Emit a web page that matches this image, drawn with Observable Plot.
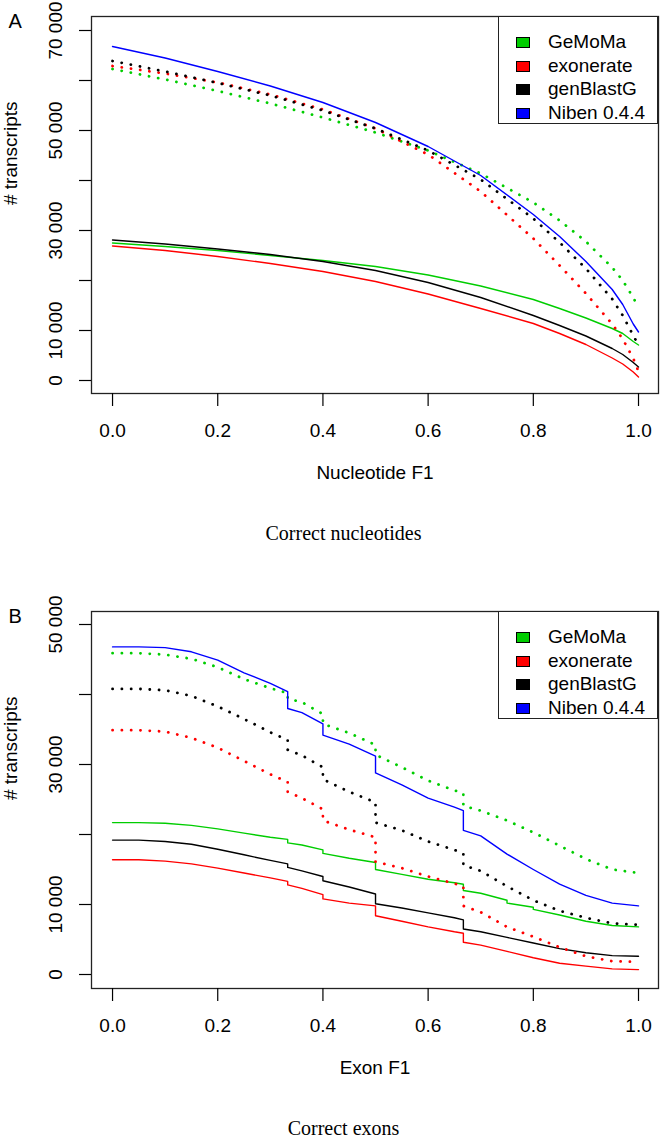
<!DOCTYPE html>
<html><head><meta charset="utf-8">
<script src="https://cdn.jsdelivr.net/npm/d3@7"></script>
<script src="https://cdn.jsdelivr.net/npm/@observablehq/plot@0.6"></script>
<style>
body{margin:0;background:#fff;}
#wrap{position:relative;width:661px;height:1147px;overflow:hidden;font-family:"Liberation Sans",Arial,Helvetica,sans-serif;}
#wrap svg{position:absolute;left:0;}
.legend{position:absolute;left:498px;width:160px;height:108px;border:1.3px solid #222;background:#fff;box-sizing:border-box;}
.legend .sw{position:absolute;left:17px;width:14px;height:11px;border:1px solid #000;box-sizing:border-box;}
.legend .lb{position:absolute;left:49px;font-size:19px;line-height:20px;color:#000;white-space:nowrap;}
</style></head>
<body><div id="wrap"></div>
<script>
// ---- shared ----
const seriesNames = ["GeMoMa", "exonerate", "genBlastG", "Niben 0.4.4"];
const seriesColors = ["#00CD00", "#FF0000", "#000000", "#0000FF"];
const xTicks = [0, 0.2, 0.4, 0.6, 0.8, 1.0];

// ---- Panel A: Correct nucleotides (values in thousands) ----
const xA = [0, 0.1, 0.2, 0.3, 0.4, 0.5, 0.6, 0.7, 0.8, 0.85, 0.9, 0.95, 0.97, 0.99, 1.0];
const aNiben        = [66.8, 64.5, 61.8, 58.9, 55.6, 51.6, 46.8, 41.0, 33.2, 28.8, 23.8, 18.2, 15.2, 11.3, 9.7];
const aGenBlastGDot = [63.9, 61.8, 59.5, 57.0, 54.0, 50.4, 46.0, 40.2, 32.4, 27.6, 22.4, 16.3, 13.0, 9.0, 7.1];
const aExonerateDot = [62.9, 61.4, 59.6, 57.2, 54.2, 50.4, 45.2, 37.8, 28.4, 23.0, 17.4, 11.3, 8.3, 4.4, 1.8];
const aGeMoMaDot    = [62.3, 60.2, 57.9, 55.4, 52.6, 49.6, 46.0, 41.4, 35.6, 32.0, 27.8, 22.6, 20.0, 16.6, 14.5];
const aGenBlastG    = [28.1, 27.3, 26.3, 25.2, 23.8, 22.0, 19.6, 16.6, 13.0, 11.0, 8.9, 6.4, 5.2, 3.6, 2.7];
const aGeMoMa       = [27.5, 26.8, 26.0, 25.0, 24.0, 22.8, 21.1, 18.9, 16.2, 14.4, 12.5, 10.4, 9.4, 7.8, 7.1];
const aExonerate    = [26.9, 26.0, 24.8, 23.4, 21.8, 19.8, 17.3, 14.4, 11.4, 9.4, 7.2, 4.5, 3.3, 1.7, 0.7];
const yTicksA = [0, 10000, 20000, 30000, 40000, 50000, 60000, 70000];
const yLabelsA = [0, 10000, 30000, 50000, 70000];

// ---- Panel B: Correct exons (values in thousands) ----
const xB = [0, 0.05, 0.1, 0.15, 0.2, 0.25, 0.3, 0.333, 0.333, 0.36, 0.4, 0.4, 0.45, 0.5, 0.5, 0.55, 0.6, 0.65, 0.667, 0.667, 0.7, 0.75, 0.75, 0.8, 0.8, 0.85, 0.9, 0.95, 1.0];
const bNiben        = [46.8, 46.8, 46.7, 46.1, 44.9, 43.1, 41.6, 40.4, 38.0, 37.4, 35.8, 34.2, 32.9, 31.2, 28.8, 27.1, 25.2, 23.9, 23.4, 20.6, 19.8, 17.2, 17.2, 15.0, 15.0, 12.9, 11.3, 10.2, 9.8];
const bGeMoMaDot    = [45.9, 45.9, 45.7, 45.1, 43.9, 42.2, 40.9, 40.2, 39.4, 38.9, 37.2, 35.8, 34.5, 32.8, 31.4, 29.6, 27.7, 26.3, 25.9, 24.1, 23.4, 22.0, 22.0, 20.3, 20.3, 18.4, 16.5, 15.0, 14.5];
const bGenBlastGDot = [40.8, 40.8, 40.6, 39.8, 38.3, 36.5, 34.6, 33.5, 32.1, 31.3, 29.6, 27.9, 26.1, 24.6, 21.7, 20.6, 19.0, 17.8, 17.3, 15.6, 14.8, 12.6, 12.6, 10.6, 10.6, 9.1, 8.1, 7.3, 7.1];
const bExonerateDot = [34.9, 34.9, 34.7, 33.8, 32.4, 30.5, 28.6, 27.5, 26.1, 25.2, 23.6, 22.0, 20.7, 19.6, 16.1, 15.2, 14.0, 13.0, 12.6, 9.8, 8.9, 6.8, 6.8, 5.4, 5.4, 3.9, 2.6, 1.9, 1.8];
const bGeMoMa       = [21.7, 21.7, 21.6, 21.3, 20.8, 20.2, 19.6, 19.3, 18.8, 18.5, 17.8, 17.3, 16.6, 16.0, 15.0, 14.3, 13.6, 13.1, 12.9, 12.0, 11.6, 10.6, 10.2, 9.6, 9.3, 8.5, 7.6, 7.0, 6.8];
const bGenBlastG    = [19.2, 19.2, 19.0, 18.6, 17.9, 17.1, 16.3, 15.8, 15.3, 14.8, 14.0, 13.4, 12.5, 11.5, 10.1, 9.5, 8.8, 8.1, 7.8, 6.5, 6.1, 5.3, 5.3, 4.5, 4.5, 3.7, 3.1, 2.7, 2.6];
const bExonerate    = [16.4, 16.4, 16.2, 15.8, 15.2, 14.5, 13.8, 13.3, 12.8, 12.3, 11.4, 10.8, 10.2, 9.8, 8.4, 7.6, 6.8, 6.1, 5.9, 4.6, 4.2, 3.3, 3.3, 2.4, 2.4, 1.6, 1.2, 0.8, 0.7];
const yTicksB = [0, 10000, 20000, 30000, 40000, 50000];
const yLabelsB = [0, 10000, 30000, 50000];

const fmtY = d => d === 0 ? "0" : d3.format(",")(d).replace(/,/g, " ");
const SANS = "Liberation Sans, Arial, Helvetica, sans-serif";
const SERIF = "Liberation Serif, Times New Roman, serif";

function pts(xs, vs) { return xs.map((x, i) => ({x, y: vs[i] * 1000})); }
function solid(xs, vs, color) {
  return Plot.line(pts(xs, vs), {x: "x", y: "y", stroke: color, strokeWidth: 1.4});
}
function dotted(xs, vs, color) {
  return Plot.line(pts(xs, vs), {x: "x", y: "y", stroke: color, strokeWidth: 2.8,
    strokeDasharray: "0.1 9.2", strokeLinecap: "round"});
}

function panel({height, marginBottom, yDomain, yTicks, yLabels, lines, letter, xTitle, caption}) {
  return Plot.plot({
    width: 661, height, marginTop: 16, marginLeft: 91, marginRight: 3, marginBottom,
    style: {fontFamily: SANS, fontSize: "19px", color: "#000", background: "transparent", overflow: "visible"},
    x: {domain: [-0.04, 1.038]},
    y: {domain: yDomain},
    marks: [
      ...lines,
      Plot.frame({stroke: "#222", strokeWidth: 1.3}),
      Plot.axisX({ticks: xTicks, tickSize: 13, tickPadding: 17, tickFormat: d3.format(".1f"), fontSize: 19, label: null, strokeWidth: 1.2}),
      Plot.axisY({ticks: yTicks, tickSize: 12, tickFormat: () => "", label: null, strokeWidth: 1.2}),
      Plot.text(yLabels, {y: d => d, text: fmtY, frameAnchor: "left", dx: -35.5, rotate: -90, fontSize: 19, textAnchor: "middle"}),
      Plot.text(["# transcripts"], {text: d => d, frameAnchor: "left", dx: -81, rotate: -90, fontSize: 19}),
      Plot.text([xTitle], {text: d => d, frameAnchor: "bottom", dy: 85, fontSize: 19}),
      Plot.text([caption], {text: d => d, frameAnchor: "bottom-left", dx: 252, dy: 146, fontSize: 20, fontFamily: SERIF, textAnchor: "middle"}),
      Plot.text([letter], {text: d => d, frameAnchor: "top-left", dx: -83, dy: -3, fontSize: 20, textAnchor: "start"})
    ]
  });
}

const c = seriesColors;
const plotA = panel({
  height: 595, marginBottom: 202, yDomain: [-2600, 72800], yTicks: yTicksA, yLabels: yLabelsA,
  letter: "A", xTitle: "Nucleotide F1", caption: "Correct nucleotides",
  lines: [
    solid(xA, aGeMoMa, c[0]), solid(xA, aExonerate, c[1]), solid(xA, aGenBlastG, c[2]),
    dotted(xA, aGeMoMaDot, c[0]), dotted(xA, aExonerateDot, c[1]), dotted(xA, aGenBlastGDot, c[2]),
    solid(xA, aNiben, c[3])
  ]
});
const plotB = panel({
  height: 552, marginBottom: 159, yDomain: [-2000, 51857], yTicks: yTicksB, yLabels: yLabelsB,
  letter: "B", xTitle: "Exon F1", caption: "Correct exons",
  lines: [
    solid(xB, bGeMoMa, c[0]), solid(xB, bExonerate, c[1]), solid(xB, bGenBlastG, c[2]),
    dotted(xB, bGeMoMaDot, c[0]), dotted(xB, bExonerateDot, c[1]), dotted(xB, bGenBlastGDot, c[2]),
    solid(xB, bNiben, c[3])
  ]
});

const wrap = document.getElementById("wrap");
plotA.style.top = "0px";
plotB.style.top = "595px";
wrap.appendChild(plotA);
wrap.appendChild(plotB);

function legend(top) {
  const box = document.createElement("div");
  box.className = "legend";
  box.style.top = top + "px";
  const centers = [25, 49, 72, 96];
  seriesNames.forEach((name, i) => {
    const sw = document.createElement("div");
    sw.className = "sw";
    sw.style.top = (centers[i] - 5.5) + "px";
    sw.style.background = seriesColors[i];
    box.appendChild(sw);
    const lb = document.createElement("div");
    lb.className = "lb";
    lb.style.top = (centers[i] - 10) + "px";
    lb.textContent = name;
    box.appendChild(lb);
  });
  wrap.appendChild(box);
}
legend(16);
legend(611);
</script>
</body></html>
